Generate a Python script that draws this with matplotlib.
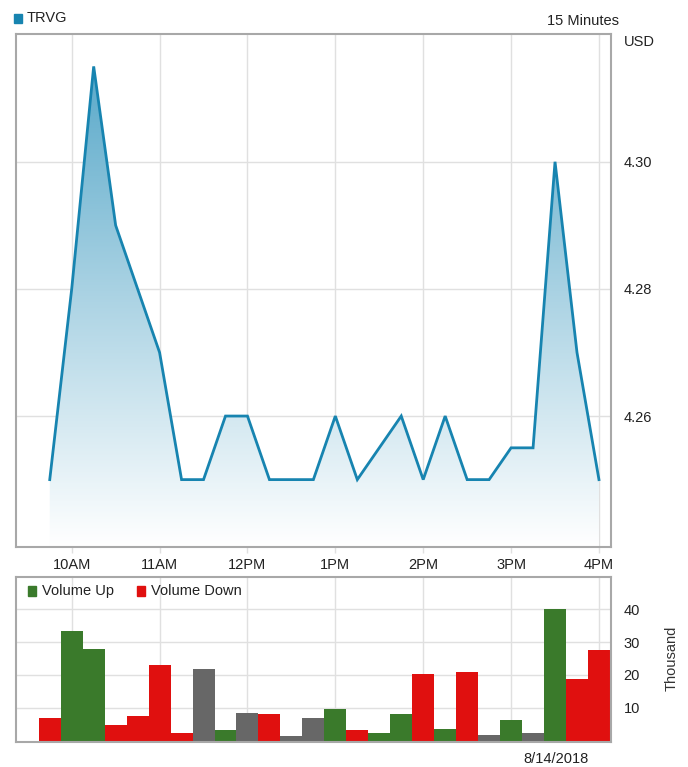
import numpy as np
import matplotlib
matplotlib.use("Agg")
import matplotlib.pyplot as plt
from matplotlib.colors import LinearSegmentedColormap
from matplotlib.patches import Rectangle

plt.rcParams['font.family'] = ['Liberation Sans', 'DejaVu Sans']

# 15 minute intervals, 8/14/2018
times = ["09:45", "10:00", "10:15", "10:30", "10:45", "11:00", "11:15", "11:30",
         "11:45", "12:00", "12:15", "12:30", "12:45", "13:00", "13:15", "13:30",
         "13:45", "14:00", "14:15", "14:30", "14:45", "15:00", "15:15", "15:30",
         "15:45", "16:00"]
price = [4.25, 4.28, 4.315, 4.29, 4.28, 4.27, 4.25, 4.25,
         4.26, 4.26, 4.25, 4.25, 4.25, 4.26, 4.25, 4.255,
         4.26, 4.25, 4.26, 4.25, 4.25, 4.255, 4.255, 4.30,
         4.27, 4.25]
volume = [7.0, 33.5, 27.8, 4.9, 7.6, 23.0, 2.2, 21.9,
          3.2, 8.5, 8.0, 1.3, 7.0, 9.5, 3.3, 2.2,
          8.0, 20.4, 3.7, 21.0, 1.7, 6.4, 2.2, 40.1,
          18.9, 27.7]
direction = ["down", "up", "up", "down", "down", "down", "down", "flat",
             "up", "flat", "down", "flat", "flat", "up", "down", "up",
             "up", "down", "up", "down", "flat", "up", "flat", "up",
             "down", "down"]
hour_ticks = [10, 11, 12, 13, 14, 15, 16]
hour_labels = ["10AM", "11AM", "12PM", "1PM", "2PM", "3PM", "4PM"]
price_ticks = [4.26, 4.28, 4.30]
vol_ticks = [10, 20, 30, 40]

x = np.array([int(t[:2]) + int(t[3:]) / 60 for t in times])
price = np.array(price)

line_c = '#1784b0'
grid_c = '#e0e0e0'
spine_c = '#a8a8a8'
colors = {"up": '#3a7a2b', "down": '#e0100f', "flat": '#676767'}

fig = plt.figure(figsize=(6.88, 7.67), dpi=100)
W, H = 688, 767
ax = fig.add_axes([16 / W, 1 - 547 / H, 595 / W, 513 / H])
axv = fig.add_axes([16 / W, 1 - 742 / H, 595 / W, 165 / H])

xmin, xmax = 9.366, 16.137
ylo, yhi = 4.2394, 4.3201
for a in (ax, axv):
    a.set_xlim(xmin, xmax)
    a.set_xticks(hour_ticks)
    a.grid(True, color=grid_c, linewidth=1)
    a.set_axisbelow(True)
    for s in a.spines.values():
        s.set_color(spine_c)
        s.set_linewidth(1.5)
    a.yaxis.tick_right()
    a.tick_params(axis='y', length=0, pad=9, labelsize=10.5, labelcolor='#222222')
    a.tick_params(axis='x', length=4, color=grid_c, width=1, labelsize=10.5,
                  labelcolor='#222222', pad=4)

# price panel
ax.set_yticks(price_ticks)
ax.set_yticklabels([f"{v:.2f}" for v in price_ticks])
ax.set_xticklabels(hour_labels)

cmap = LinearSegmentedColormap.from_list('fade', ['#4ea3c6', '#a9d2e3', '#ffffff'])
grad = np.linspace(0, 1, 256).reshape(-1, 1)
im = ax.imshow(grad, cmap=cmap, aspect='auto', extent=[xmin, xmax, ylo, yhi],
               zorder=1, origin='upper')
fill = ax.fill_between(x, price, ylo, color='none', linewidth=0)
im.set_clip_path(fill.get_paths()[0], transform=ax.transData)
ax.plot(x, price, color=line_c, linewidth=2.0, zorder=3, solid_joinstyle='miter')
ax.set_ylim(ylo, yhi)
ax.set_xlim(xmin, xmax)

# volume panel
bar_colors = [colors[d] for d in direction]
axv.bar(x, volume, width=0.25, color=bar_colors, zorder=2, linewidth=0)
axv.set_ylim(-0.4, 49.8)
axv.set_yticks(vol_ticks)
axv.set_xticklabels([])
axv.tick_params(axis='x', length=0)

# text annotations
fig.patches.append(Rectangle((14 / W, 1 - 23 / H), 8 / W, 9 / H, transform=fig.transFigure,
                             color=line_c))
fig.text(27 / W, 1 - 18 / H, "TRVG", fontsize=10.5, va='center', color='#222222')
fig.text(619 / W, 1 - 21 / H, "15 Minutes", fontsize=10.5, va='center', ha='right',
         color='#222222')
fig.text(624 / W, 1 - 42 / H, "USD", fontsize=10.5, va='center', color='#222222')

fig.patches.append(Rectangle((28 / W, 1 - 596 / H), 8 / W, 10 / H, transform=fig.transFigure,
                             color=colors["up"]))
fig.text(42 / W, 1 - 591 / H, "Volume Up", fontsize=10.5, va='center', color='#222222')
fig.patches.append(Rectangle((137 / W, 1 - 596 / H), 8 / W, 10 / H, transform=fig.transFigure,
                             color=colors["down"]))
fig.text(151 / W, 1 - 591 / H, "Volume Down", fontsize=10.5, va='center', color='#222222')

fig.text(672 / W, 1 - 658 / H, "Thousand", fontsize=10.5, va='center', ha='center',
         rotation=90, color='#333333')
fig.text(556 / W, 1 - 759 / H, "8/14/2018", fontsize=10.5, va='center', ha='center',
         color='#222222')

fig.savefig("out.png", dpi=100)
